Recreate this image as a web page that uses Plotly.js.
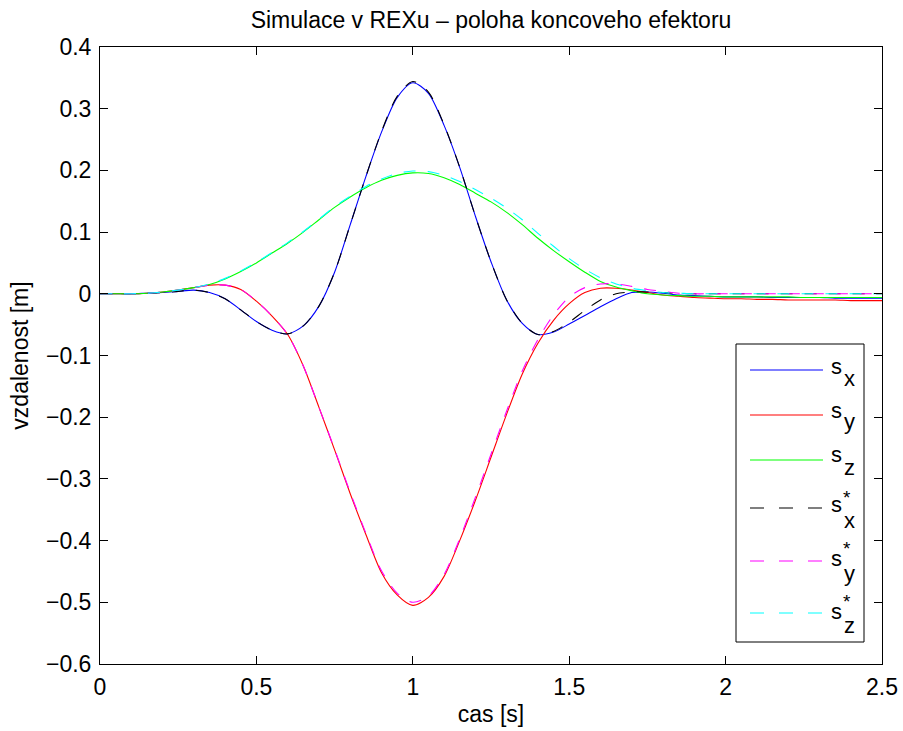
<!DOCTYPE html>
<html>
<head>
<meta charset="utf-8">
<script src="https://cdn.plot.ly/plotly-3.0.1.min.js"></script>
<style>html,body{margin:0;padding:0;background:#fff;}#chart{width:903px;height:731px;}</style>
</head>
<body>
<div id="chart"></div>
<script>
// time [s]
const time = [0,0.05,0.1,0.15,0.2,0.25,0.3,0.35,0.4,0.45,0.5,0.55,0.6,0.65,0.7,0.75,0.8,0.85,0.9,0.95,1.0,1.05,1.1,1.15,1.2,1.25,1.3,1.35,1.4,1.45,1.5,1.55,1.6,1.65,1.7,1.75,1.8,1.85,1.9,1.95,2.0,2.05,2.1,2.15,2.2,2.25,2.3,2.35,2.4,2.45,2.5];
// simulated end-effector position [m]
const sx = [0,0,0,0.001,0.002,0.004,0.006,0.002,-0.008,-0.026,-0.045,-0.059,-0.065,-0.052,-0.02,0.035,0.112,0.19,0.262,0.318,0.342,0.325,0.273,0.205,0.126,0.052,-0.01,-0.048,-0.066,-0.062,-0.049,-0.035,-0.021,-0.008,0.002,0.003,0.001,-0.002,-0.003,-0.004,-0.005,-0.005,-0.005,-0.006,-0.006,-0.006,-0.006,-0.007,-0.007,-0.007,-0.007];
const sy = [0,0,0,0.001,0.003,0.006,0.01,0.014,0.014,0.007,-0.012,-0.036,-0.066,-0.117,-0.184,-0.253,-0.324,-0.39,-0.452,-0.488,-0.505,-0.492,-0.458,-0.4,-0.335,-0.265,-0.195,-0.13,-0.08,-0.043,-0.016,0.002,0.009,0.009,0.006,0.002,-0.002,-0.004,-0.006,-0.007,-0.008,-0.008,-0.009,-0.009,-0.01,-0.01,-0.01,-0.01,-0.011,-0.011,-0.011];
const sz = [0,0,0,0.001,0.003,0.006,0.01,0.015,0.024,0.036,0.05,0.066,0.082,0.1,0.12,0.14,0.157,0.172,0.184,0.192,0.196,0.195,0.188,0.177,0.163,0.149,0.132,0.112,0.09,0.07,0.052,0.035,0.02,0.011,0.005,0,-0.002,-0.003,-0.004,-0.004,-0.005,-0.005,-0.005,-0.005,-0.005,-0.006,-0.006,-0.006,-0.006,-0.006,-0.006];
// reference (desired) position [m]
const sxRef = [0,0,0,0.001,0.002,0.004,0.006,0.002,-0.008,-0.026,-0.045,-0.059,-0.065,-0.052,-0.02,0.035,0.112,0.19,0.263,0.32,0.344,0.327,0.274,0.205,0.126,0.052,-0.01,-0.048,-0.066,-0.061,-0.046,-0.027,-0.01,0,0.003,0.003,0.002,0.001,0,0,0,0,0,0,0,0,0,0,0,0,0];
const syRef = [0,0,0,0.001,0.003,0.006,0.01,0.014,0.014,0.007,-0.012,-0.036,-0.066,-0.117,-0.184,-0.252,-0.322,-0.388,-0.449,-0.485,-0.5,-0.49,-0.455,-0.397,-0.33,-0.26,-0.19,-0.125,-0.074,-0.034,-0.005,0.01,0.016,0.016,0.012,0.007,0.004,0.001,0,0,0,0,0,0,0,0,0,0,0,0,0];
const szRef = [0,0,0,0.001,0.003,0.006,0.01,0.016,0.025,0.037,0.051,0.067,0.083,0.101,0.121,0.141,0.158,0.174,0.186,0.195,0.199,0.198,0.192,0.182,0.169,0.155,0.139,0.12,0.098,0.077,0.057,0.04,0.026,0.016,0.009,0.005,0.002,0.001,0,0,0,0,0,0,0,0,0,0,0,0,0];

const seriesNames = ['sx','sy','sz','sx*','sy*','sz*'];
const subLetters = ['x','y','z','x','y','z'];
const starred = [false,false,false,true,true,true];
const colors = ['#0000ff','#ff0000','#00ff00','#000000','#ff00ff','#00ffff'];
const seriesData = [sx, sy, sz, sxRef, syRef, szRef];

const FONT = 'Liberation Sans, Arial, Helvetica, sans-serif';
const FS = 23;
const W = 903, H = 731;
const L = 100, R = 882, T = 47, B = 664;
const px = x => (x - L) / (R - L);
const py = y => (B - y) / (B - T);

const traces = seriesData.map((d, i) => ({
  x: time, y: d, type: 'scatter', mode: 'lines', name: seriesNames[i],
  line: {color: colors[i], width: 1.1, shape: 'spline', smoothing: 0.8,
         dash: starred[i] ? '12px,12px' : 'solid'},
  showlegend: false, hoverinfo: 'skip'
}));

// custom legend (MATLAB style)
const shapes = [{type:'rect', xref:'paper', yref:'paper', x0:px(736), x1:px(864), y0:py(642), y1:py(344),
  fillcolor:'#ffffff', line:{color:'#000000', width:1}, layer:'above'}];
const annotations = [];
const lineY = [370, 415, 460, 508, 561, 613];
const sY = [366, 410, 455, 504.5, 558.5, 611];
const subY = [378, 421.5, 467.5, 520.5, 573, 625];
const starY = [0,0,0,497.5, 548.5, 601.5];
seriesNames.forEach((n, i) => {
  shapes.push({type:'line', xref:'paper', yref:'paper', x0:px(750), x1:px(823), y0:py(lineY[i]), y1:py(lineY[i]),
    line:{color:colors[i], width:1.1, dash: starred[i] ? '14px,15px' : 'solid'}, layer:'above'});
  annotations.push({xref:'paper', yref:'paper', x:px(829), y:py(sY[i]), xanchor:'left', yanchor:'middle',
    text:'s', showarrow:false, font:{family:FONT, size:22, color:'#000'}});
  annotations.push({xref:'paper', yref:'paper', x:px(841.5), y:py(subY[i]), xanchor:'left', yanchor:'middle',
    text:subLetters[i], showarrow:false, font:{family:FONT, size:22, color:'#000'}});
  if (starred[i]) annotations.push({xref:'paper', yref:'paper', x:px(846.5), y:py(starY[i]), xanchor:'center', yanchor:'middle',
    text:'*', showarrow:false, font:{family:FONT, size:19, color:'#000'}});
});

const axisCommon = {showline:true, mirror:'ticks', linecolor:'#000', linewidth:1, ticks:'inside', ticklen:8,
  tickcolor:'#000', showgrid:false, zeroline:false, tickfont:{family:FONT, size:FS, color:'#000'}, automargin:false};

const layout = {
  width: W, height: H,
  margin: {l: L, r: W - R, t: T, b: H - B, pad: 0},
  paper_bgcolor:'#fff', plot_bgcolor:'#fff',
  title: {text:'Simulace v REXu – poloha koncoveho efektoru', font:{family:FONT, size:FS, color:'#000'},
          xref:'paper', x:0.5, xanchor:'center', yref:'container', y:1 - 20/H, yanchor:'middle'},
  xaxis: Object.assign({}, axisCommon, {range:[0,2.5], tickvals:[0,0.5,1,1.5,2,2.5], ticktext:['0','0.5','1','1.5','2','2.5'],
          ticklabelstandoff:2,
          title:{text:'cas [s]', font:{family:FONT, size:FS, color:'#000'}, standoff:7}}),
  yaxis: Object.assign({}, axisCommon, {range:[-0.6,0.4], tickvals:[-0.6,-0.5,-0.4,-0.3,-0.2,-0.1,0,0.1,0.2,0.3,0.4],
          ticktext:['−0.6','−0.5','−0.4','−0.3','−0.2','−0.1','0','0.1','0.2','0.3','0.4'],
          ticklabelstandoff:3,
          title:{text:'vzdalenost [m]', font:{family:FONT, size:FS, color:'#000'}, standoff:10}}),
  shapes: shapes, annotations: annotations, showlegend:false
};

Plotly.newPlot('chart', traces, layout, {displayModeBar:false, staticPlot:true});
</script>
</body>
</html>
